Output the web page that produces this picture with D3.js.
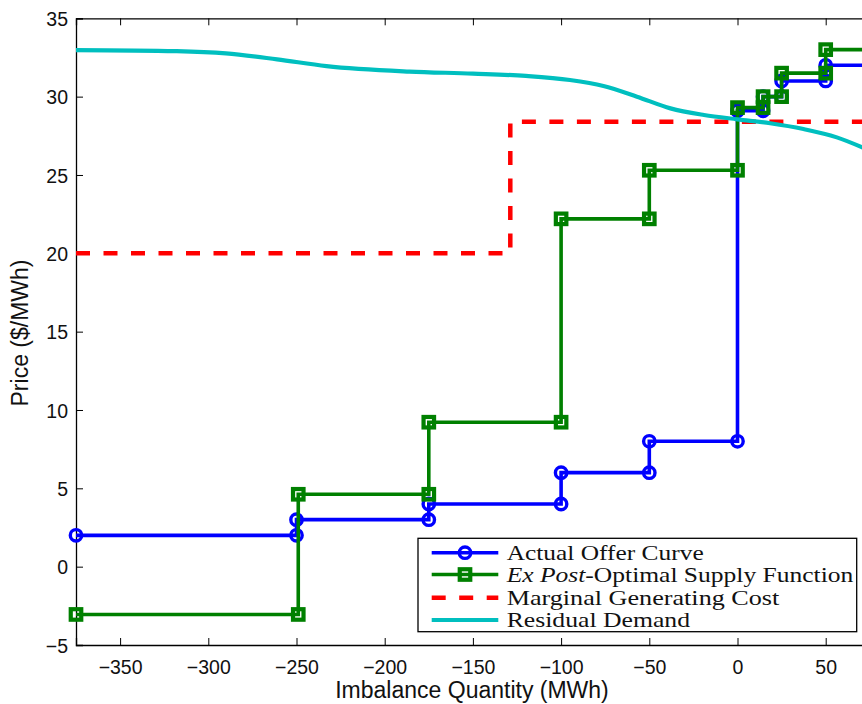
<!DOCTYPE html>
<html>
<head>
<meta charset="utf-8">
<script src="https://cdn.jsdelivr.net/npm/d3@7"></script>
<style>
  html, body { margin: 0; padding: 0; background: #fff; }
  svg { display: block; }
</style>
</head>
<body>
<svg id="chart" width="862" height="704"></svg>
<script>
// ---------------- Data ----------------
const xTicks = [-350, -300, -250, -200, -150, -100, -50, 0, 50];
const xTickLabels = ["\u2212350", "\u2212300", "\u2212250", "\u2212200", "\u2212150", "\u2212100", "\u221250", "0", "50"];
const yTicks = [-5, 0, 5, 10, 15, 20, 25, 30, 35];
const yTickLabels = ["\u22125", "0", "5", "10", "15", "20", "25", "30", "35"];

// Actual Offer Curve (step points)
const offerQ = [-375, -250, -250, -175, -175, -100, -100, -50, -50, 0, 0, 14.5, 14.5, 25, 25, 50, 50, 75];
const offerP = [2, 2, 3, 3, 4, 4, 6, 6, 8, 8, 29.1, 29.1, 30, 30, 31, 31, 32, 32];

// Ex Post-Optimal Supply Function (step points)
const optQ = [-375, -249, -249, -175, -175, -100, -100, -50, -50, 0, 0, 14.5, 14.5, 25, 25, 50, 50, 75];
const optP = [-3.05, -3.05, 4.62, 4.62, 9.22, 9.22, 22.2, 22.2, 25.3, 25.3, 29.3, 29.3, 30, 30, 31.5, 31.5, 33, 33];

// Marginal Generating Cost
const mcQ = [-375, -128.8, -128.8, 75];
const mcP = [20, 20, 28.4, 28.4];

// Residual Demand
const rdQ = [-375, -318, -290, -261, -233, -186, -150, -120, -95, -76, -57, -38, -19, 0, 18.5, 37.4, 56.3, 75];
const rdP = [32.97, 32.9, 32.76, 32.38, 31.95, 31.6, 31.47, 31.32, 31.06, 30.68, 30.0, 29.25, 28.83, 28.55, 28.3, 27.93, 27.4, 26.55];

const legendLabels = ["Actual Offer Curve", "Ex Post-Optimal Supply Function", "Marginal Generating Cost", "Residual Demand"];
const xLabel = "Imbalance Quantity (MWh)";
const yLabel = "Price ($/MWh)";

// ---------------- Layout ----------------
const svg = d3.select("#chart");
const pLeft = 76, pTop = 18.3, pBottom = 645;
const x = d3.scaleLinear().domain([-375, 75]).range([pLeft, pLeft + 450 * 1.764]);
const y = d3.scaleLinear().domain([-5, 35]).range([pBottom, pTop]);
const pRight = x(75);

const blue = "#0000ff", green = "#008000", red = "#ff0000", cyan = "#00bfbf";

svg.append("defs").append("clipPath").attr("id", "plotclip")
  .append("rect").attr("x", pLeft).attr("y", pTop).attr("width", pRight - pLeft).attr("height", pBottom - pTop);

const tickFont = "'Liberation Sans', Arial, Helvetica, sans-serif";

// Axes (box with inward ticks)
const axB = svg.append("g").attr("transform", `translate(0,${pBottom})`)
  .call(d3.axisBottom(x).tickValues(xTicks).tickSize(-7).tickPadding(15)
    .tickFormat((d, i) => xTickLabels[i]));
const axT = svg.append("g").attr("transform", `translate(0,${pTop})`)
  .call(d3.axisTop(x).tickValues(xTicks).tickSize(-7).tickFormat(""));
const axL = svg.append("g").attr("transform", `translate(${pLeft},0)`)
  .call(d3.axisLeft(y).tickValues(yTicks).tickSize(-7).tickPadding(8)
    .tickFormat((d, i) => yTickLabels[i]));
const axR = svg.append("g").attr("transform", `translate(${pRight},0)`)
  .call(d3.axisRight(y).tickValues(yTicks).tickSize(-7).tickFormat(""));

[axB, axT, axL, axR].forEach(g => {
  g.select(".domain").attr("stroke", "#000").attr("stroke-width", 1.3);
  g.selectAll(".tick line").attr("stroke", "#000").attr("stroke-width", 1);
  g.selectAll(".tick text").attr("fill", "#111").style("font-family", tickFont).style("font-size", "19.5px");
});
axL.selectAll(".tick text").attr("dy", "0.36em");
axB.selectAll(".tick text").attr("dy", "0.71em");

// Axis labels
svg.append("text").attr("x", 472).attr("y", 698)
  .attr("text-anchor", "middle").style("font-family", tickFont).style("font-size", "23px").attr("fill", "#111")
  .text(xLabel);
svg.append("text").attr("transform", "translate(28,333) rotate(-90)")
  .attr("text-anchor", "middle").style("font-family", tickFont).style("font-size", "23px").attr("fill", "#111")
  .text(yLabel);

// ---------------- Series ----------------
const line = d3.line().x(d => x(d[0])).y(d => y(d[1]));
const offerData = offerQ.map((q, i) => [q, offerP[i]]);
const optData = optQ.map((q, i) => [q, optP[i]]);
const mcData = mcQ.map((q, i) => [q, mcP[i]]);
const rdData = rdQ.map((q, i) => [q, rdP[i]]);

const plot = svg.append("g");

// Blue offer curve
plot.append("path").datum(offerData).attr("d", line).attr("fill", "none")
  .attr("stroke", blue).attr("stroke-width", 3.6).attr("stroke-linejoin", "miter");
plot.append("g").selectAll("circle").data(offerData.filter(d => d[0] < 75)).join("circle")
  .attr("cx", d => x(d[0])).attr("cy", d => y(d[1])).attr("r", 5.7)
  .attr("fill", "none").attr("stroke", blue).attr("stroke-width", 3.4);

// Green optimal supply
plot.append("path").datum(optData).attr("d", line).attr("fill", "none")
  .attr("stroke", green).attr("stroke-width", 3.6);
const sq = 10.5;
plot.append("g").selectAll("rect").data(optData.filter(d => d[0] < 75)).join("rect")
  .attr("x", d => x(d[0]) - sq / 2).attr("y", d => y(d[1]) - sq / 2)
  .attr("width", sq).attr("height", sq)
  .attr("fill", "none").attr("stroke", green).attr("stroke-width", 4.2);

// Red marginal cost
plot.append("path").datum(mcData).attr("d", line).attr("fill", "none")
  .attr("stroke", red).attr("stroke-width", 4.5).attr("stroke-dasharray", "14,13.5");

// Cyan residual demand
plot.append("path").datum(rdData)
  .attr("d", d3.line().x(d => x(d[0])).y(d => y(d[1])).curve(d3.curveMonotoneX))
  .attr("clip-path", "url(#plotclip)")
  .attr("fill", "none").attr("stroke", cyan).attr("stroke-width", 4.2);

// ---------------- Legend ----------------
const lg = svg.append("g");
lg.append("rect").attr("x", 418).attr("y", 538.3).attr("width", 438.7).attr("height", 93.4)
  .attr("fill", "#fff").attr("stroke", "#000").attr("stroke-width", 1.3);
const rowsY = [552.7, 574.5, 597.7, 620];
const textLens = [197, 346.6, 272.6, 183.3];
const styles = [
  { c: blue, w: 3.6, dash: null, m: "circle" },
  { c: green, w: 3.6, dash: null, m: "square" },
  { c: red, w: 4.5, dash: "14,13.5", m: null },
  { c: cyan, w: 4.2, dash: null, m: null }
];
legendLabels.forEach((lab, i) => {
  const yy = rowsY[i], s = styles[i];
  lg.append("line").attr("x1", 431.7).attr("x2", 498.3).attr("y1", yy).attr("y2", yy)
    .attr("stroke", s.c).attr("stroke-width", s.w).attr("stroke-dasharray", s.dash);
  if (s.m === "circle") {
    lg.append("circle").attr("cx", 465).attr("cy", yy).attr("r", 5.7)
      .attr("fill", "none").attr("stroke", s.c).attr("stroke-width", 3.4);
  } else if (s.m === "square") {
    lg.append("rect").attr("x", 465 - sq / 2).attr("y", yy - sq / 2).attr("width", sq).attr("height", sq)
      .attr("fill", "none").attr("stroke", s.c).attr("stroke-width", 4.2);
  }
  const t = lg.append("text").attr("x", 506.7).attr("y", yy + 7)
    .style("font-family", "'Liberation Serif', 'Times New Roman', serif").style("font-size", "21px")
    .attr("fill", "#111")
    .attr("textLength", textLens[i]).attr("lengthAdjust", "spacingAndGlyphs");
  if (i === 1) {
    t.append("tspan").style("font-style", "italic").text("Ex Post");
    t.append("tspan").text("-Optimal Supply Function");
  } else {
    t.text(lab);
  }
});
</script>
</body>
</html>
